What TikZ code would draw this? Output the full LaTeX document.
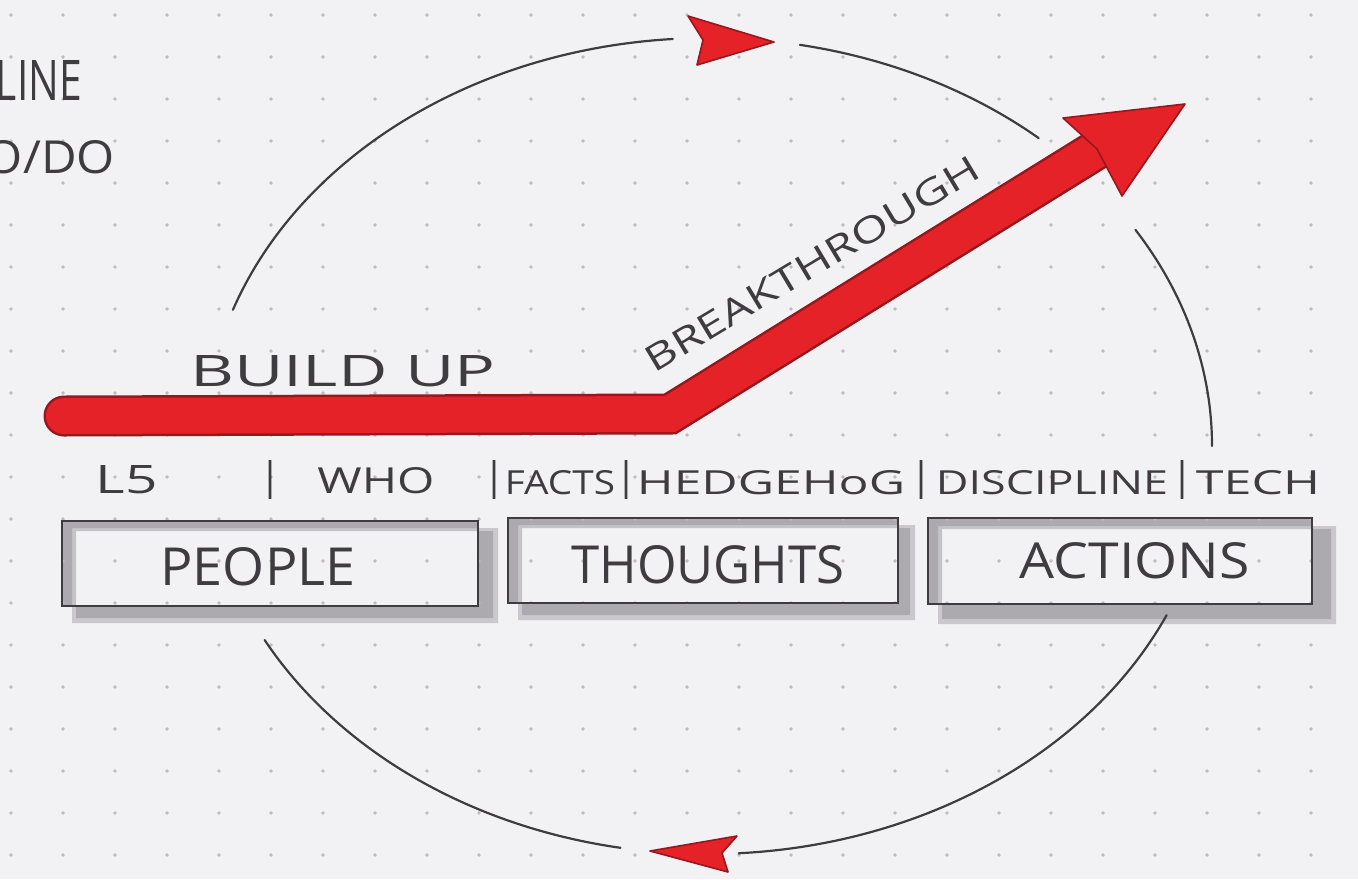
\documentclass[tikz,border=0pt]{standalone}
\usepackage{fontspec}
\usepackage{graphicx}
\newfontfamily\handfont{Open Sans}
\definecolor{paper}{RGB}{242,241,244}
\definecolor{dotgray}{RGB}{190,186,192}
\definecolor{ink}{RGB}{62,60,64}
\definecolor{mred}{RGB}{228,34,40}
\definecolor{dred}{RGB}{150,24,30}
\definecolor{shade}{RGB}{128,126,132}
% hand lettering stretched to a given width and cap height
\newcommand{\hw}[3]{\resizebox{#1pt}{#2pt}{\handfont #3}}
\begin{document}
\begin{tikzpicture}[x=1pt,y=-1pt,
  lbl/.style={inner sep=0pt, text=ink},
  sep/.style={inner sep=0pt, text=ink},
  box/.style={draw=ink, line width=2.2pt, inner sep=0pt},
  ring/.style={draw=ink, line width=2.2pt, line cap=round},
  head/.style={fill=mred, draw=dred, line width=1.6pt, line join=round},
  shadowfill/.style={fill=shade, opacity=.35, even odd rule},
  shadowcore/.style={fill=shade, opacity=.4, even odd rule}]
\fill[paper] (0,0) rectangle (1358,879);
\useasboundingbox (0,0) rectangle (1358,879);

% drop shadows of the three boxes (outside the boxes only), soft rim plus darker core
\fill[shadowfill] (72,528) rectangle (498,623) (62,521) rectangle (478,606);
\fill[shadowcore] (76,531) rectangle (493,618) (62,521) rectangle (478,606);
\fill[shadowfill] (518,525) rectangle (915,620) (508,518) rectangle (898,603);
\fill[shadowcore] (522,528) rectangle (910,615) (508,518) rectangle (898,603);
\fill[shadowfill] (938,526) rectangle (1336,624) (928,518) rectangle (1312,604);
\fill[shadowcore] (942,529) rectangle (1331,619) (928,518) rectangle (1312,604);

% dotted paper
\foreach \i in {0,...,26}
  \foreach \j in {0,...,20}
    \fill[dotgray] ({11+52*\i},{15+42*\j}) circle (1.8);

% broken cycle around the picture
\draw[ring] (708,446) ++(-160.5:504 and 408) arc[start angle=-160.5, end angle=-94, x radius=504, y radius=408];
\draw[ring] (708,446) ++(-79.5:504 and 408) arc[start angle=-79.5, end angle=-49, x radius=504, y radius=408];
\draw[ring] (708,446) ++(-32:504 and 408) arc[start angle=-32, end angle=0, x radius=504, y radius=408];
\draw[ring] (708,446) ++(24.5:504 and 408) arc[start angle=24.5, end angle=86.5, x radius=504, y radius=408];
\draw[ring] (708,446) ++(100:504 and 408) arc[start angle=100, end angle=151.6, x radius=504, y radius=408];
% cycle arrowheads
\filldraw[head] (774,42) -- (688,16) -- (703,40) -- (697,65) -- cycle;
\filldraw[head] (650,851) -- (737,836) -- (722,853) -- (728,872) -- cycle;

% boxes
\node[box, minimum width=416pt, minimum height=85pt] (people) at (270,563.5) {};
\node[box, minimum width=390pt, minimum height=85pt] (thoughts) at (703,560.5) {};
\node[box, minimum width=384pt, minimum height=86pt] (actions) at (1120,561) {};
\node[lbl] (peopletxt) at (258,567) {\hw{195}{38}{PEOPLE}};
\node[lbl] (thoughtstxt) at (708,565) {\hw{273}{38}{THOUGHTS}};
\node[lbl] (actionstxt) at (1135,561) {\hw{230}{36}{ACTIONS}};

% red build-up / breakthrough arrow
\draw[dred, line width=41pt, line cap=round, line join=miter] (64,416) -- (670,414) -- (1096,150);
\draw[mred, line width=36pt, line cap=round, line join=miter] (64,416) -- (670,414) -- (1096,150);
\filldraw[head] (1185,104) -- (1063,118) -- (1097,149) -- (1122,196) -- cycle;

% labels
\node[lbl] (buildup) at (343,371) {\hw{305}{31}{BUILD UP}};
\node[lbl, rotate=31] (breakthrough) at (812,264) {\hw{383}{26}{BREAKTHROUGH}};
\node[lbl] (linetxt) at (39,80) {\hw{86}{40}{LINE}};
\node[lbl] (dodo) at (50,157) {\hw{130}{33}{O/DO}};

\node[lbl] (lfive) at (127,480) {\hw{62}{28}{L5}};
\node[sep] (sepa) at (270,480) {\hw{14}{30}{\bfseries |}};
\node[lbl] (who) at (376,481) {\hw{117}{26}{WHO}};
\node[sep] (sepb) at (494,480) {\hw{14}{30}{\bfseries |}};
\node[lbl] (facts) at (560,483) {\hw{110}{24}{FACTS}};
\node[sep] (sepc) at (626,480) {\hw{14}{30}{\bfseries |}};
\node[lbl] (hedgehog) at (771,483) {\hw{268}{24}{HEDGEHoG}};
\node[sep] (sepd) at (921,480) {\hw{14}{30}{\bfseries |}};
\node[lbl] (discipline) at (1052,483) {\hw{232}{24}{DISCIPLINE}};
\node[sep] (sepe) at (1182,480) {\hw{14}{30}{\bfseries |}};
\node[lbl] (tech) at (1258,483) {\hw{124}{24}{TECH}};
\end{tikzpicture}
\end{document}
